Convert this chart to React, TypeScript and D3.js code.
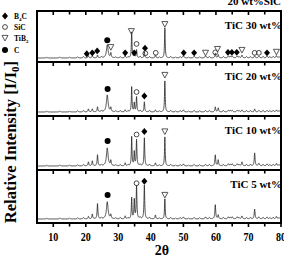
import React from "react";
import * as d3 from "d3";

// ---------- data ----------
const xTicksMajor = [10, 20, 30, 40, 50, 60, 70, 80];
const xTicksMinor = [15, 25, 35, 45, 55, 65, 75];
const panelLabels = ["TiC 30 wt%", "TiC 20 wt%", "TiC 10 wt%", "TiC 5 wt%"];
const title = "20 wt%SiC";

// diffraction peak positions (2θ) and half widths
const peakPositions = [20.8, 22.0, 23.6, 26.6, 27.7, 32.1, 34.1, 34.9, 35.6, 38.0, 41.4, 44.3, 50.0, 53.3, 56.8, 59.8, 60.7, 63.8, 65.0, 66.5, 68.0, 71.9, 73.2, 75.7, 78.6];
const peakWidths = [0.15, 0.15, 0.14, 0.3, 0.14, 0.14, 0.12, 0.12, 0.13, 0.13, 0.15, 0.12, 0.2, 0.2, 0.2, 0.15, 0.15, 0.2, 0.2, 0.2, 0.18, 0.15, 0.2, 0.2, 0.2];
// intensities (0-100) per sample
const intensTiC30 = [5, 5, 6, 28, 10, 5, 55, 12, 17, 13, 6, 64, 5, 4, 5, 10, 7, 4, 4, 4, 6, 5, 4, 4, 5];
const intensTiC20 = [6, 6, 10, 34, 8, 4, 50, 18, 30, 20, 4, 62, 4, 3, 3, 10, 8, 3, 3, 3, 4, 6, 3, 3, 4];
const intensTiC10 = [8, 10, 22, 36, 10, 6, 58, 28, 52, 56, 6, 58, 4, 3, 3, 22, 12, 4, 4, 4, 8, 26, 5, 4, 5];
const intensTiC5 = [5, 10, 31, 35, 8, 6, 43, 39, 67, 69, 8, 41, 4, 3, 4, 29, 8, 4, 4, 4, 6, 20, 4, 4, 5];
const intensities = [intensTiC30, intensTiC20, intensTiC10, intensTiC5];

// small background bumps (2θ, intensity)
const bumpPositions = [8, 12, 15, 17.5, 19.3, 24.8, 29.2, 30.6, 33.0, 36.7, 39.6, 42.6, 46.1, 47.6, 49.0, 51.6, 55.0, 58.0, 62.3, 64.4, 67.1, 69.4, 70.6, 74.5, 76.6, 77.6, 79.4];
const bumpIntens = [1.5, 2, 2, 2.5, 3, 2.5, 2, 2.5, 2, 3, 3, 2, 3, 2, 2.5, 2, 2.5, 3, 3, 3, 2.5, 3, 3, 3, 2.5, 3, 2.5];

// phase markers: [phase, 2θ, intensity level]
type Mk = [string, number, number];
const markersTiC30: Mk[] = [
  ["B4C", 20.3, 9], ["B4C", 22.0, 11], ["B4C", 23.5, 15], ["C", 26.6, 38], ["TiB2", 27.7, 23],
  ["B4C", 32.1, 11], ["TiB2", 34.0, 57], ["B4C", 34.9, 11], ["SiC", 35.6, 30], ["B4C", 38.2, 21],
  ["SiC", 38.3, 10], ["SiC", 41.5, 11], ["TiB2", 44.3, 72], ["B4C", 50.1, 11], ["B4C", 53.3, 11],
  ["TiB2", 56.8, 11], ["SiC", 59.8, 12], ["TiB2", 60.5, 19], ["B4C", 63.7, 12], ["B4C", 64.9, 12],
  ["B4C", 66.4, 12], ["TiB2", 68.0, 17], ["SiC", 71.9, 11], ["SiC", 73.2, 11], ["B4C", 75.7, 11],
  ["TiB2", 78.6, 13],
];
const markersTiC20: Mk[] = [["C", 26.7, 46], ["SiC", 35.6, 40], ["B4C", 38.0, 32], ["TiB2", 44.3, 74]];
const markersTiC10: Mk[] = [["C", 26.7, 50], ["SiC", 35.6, 63], ["B4C", 38.0, 69], ["TiB2", 44.3, 69]];
const markersTiC5: Mk[] = [["C", 26.7, 49], ["SiC", 35.6, 73], ["B4C", 38.0, 77], ["TiB2", 44.3, 49]];
const markers = [markersTiC30, markersTiC20, markersTiC10, markersTiC5];

const legendPhases = ["B4C", "SiC", "TiB2", "C"];

// ---------- layout ----------
const FONT = "'Liberation Serif', 'Times New Roman', serif";
const LEFT = 37, RIGHT = 281;
const panelEdges = [11, 62, 116, 170, 223];

function Marker({ type, cx, cy }: { type: string; cx: number; cy: number }) {
  if (type === "B4C")
    return <path d={`M${cx},${cy - 3.4}L${cx + 3},${cy}L${cx},${cy + 3.4}L${cx - 3},${cy}Z`} fill="#000" />;
  if (type === "SiC")
    return <circle cx={cx} cy={cy} r={2.4} fill="none" stroke="#333" strokeWidth={0.9} />;
  if (type === "TiB2")
    return <path d={`M${cx - 3},${cy - 2.6}L${cx + 3},${cy - 2.6}L${cx},${cy + 3}Z`} fill="none" stroke="#444" strokeWidth={0.9} />;
  return <circle cx={cx} cy={cy} r={3} fill="#000" />;
}

function PhaseLabel({ p }: { p: string }) {
  if (p === "B4C") return <>B<tspan fontSize={5} dy={2}>4</tspan><tspan dy={-2}>C</tspan></>;
  if (p === "TiB2") return <>TiB<tspan fontSize={5} dy={2}>2</tspan></>;
  return <>{p}</>;
}

export default function App() {
  const x = d3.scaleLinear().domain([5, 80]).range([LEFT, RIGHT]);
  const samples = d3.range(5, 80.0001, 0.03);

  const profile = (ints: number[]) =>
    samples.map((t) => {
      let s = 0;
      peakPositions.forEach((p, i) => {
        const d = (t - p) / peakWidths[i];
        s += ints[i] / (1 + d * d);
      });
      bumpPositions.forEach((p, i) => {
        const d = (t - p) / 0.18;
        s += bumpIntens[i] / (1 + d * d);
      });
      return [t, s] as [number, number];
    });

  return (
    <svg width={284} height={261} style={{ position: "absolute", left: 0, top: 0, background: "#fff" }} fontFamily={FONT} fontWeight="bold">
      <rect width={284} height={261} fill="#fff" />
      {panelLabels.map((lab, k) => {
        const top = panelEdges[k], bottom = panelEdges[k + 1];
        const y = d3.scaleLinear().domain([0, 100]).range([bottom - 4, top]);
        const line = d3.line<[number, number]>().x((d) => x(d[0])).y((d) => y(d[1]));
        return (
          <g key={lab}>
            <path d={line(profile(intensities[k])) || ""} fill="none" stroke="#222" strokeWidth={0.8} />
            {markers[k].map((m, i) => (
              <Marker key={i} type={m[0]} cx={x(m[1])} cy={y(m[2])} />
            ))}
            <text x={282} y={top + 18} textAnchor="end" fontSize={11}>{lab}</text>
          </g>
        );
      })}
      {/* frame and separators */}
      <rect x={LEFT} y={panelEdges[0]} width={RIGHT - LEFT} height={panelEdges[4] - panelEdges[0]} fill="none" stroke="#000" strokeWidth={2} />
      {panelEdges.slice(1, 4).map((e) => (
        <line key={e} x1={LEFT} x2={RIGHT} y1={e} y2={e} stroke="#000" strokeWidth={2} />
      ))}
      {/* ticks pointing down from each horizontal line */}
      {panelEdges.map((e) => (
        <g key={"t" + e}>
          {xTicksMajor.map((t) => (
            <line key={t} x1={x(t)} x2={x(t)} y1={e} y2={e + 4} stroke="#000" strokeWidth={1.6} />
          ))}
          {xTicksMinor.map((t) => (
            <line key={t} x1={x(t)} x2={x(t)} y1={e} y2={e + 3.5} stroke="#000" strokeWidth={1.6} />
          ))}
        </g>
      ))}
      {xTicksMajor.map((t) => (
        <text key={t} x={x(t)} y={241} textAnchor="middle" fontSize={12} textLength={10} lengthAdjust="spacingAndGlyphs">{t}</text>
      ))}
      <text x={162} y={255} textAnchor="middle" fontSize={14}>2θ</text>
      <text transform="translate(15.5,142) rotate(-90)" textAnchor="middle" fontSize={16.5}>
        Relative Intensity [I/I<tspan fontSize={11} dy={3}>0</tspan><tspan dy={-3}>]</tspan>
      </text>
      <text x={281} y={5} textAnchor="end" fontSize={11}>{title}</text>
      {/* legend */}
      {legendPhases.map((p, i) => {
        const cy = [16, 27, 38, 50][i];
        return (
          <g key={p}>
            <Marker type={p} cx={5} cy={cy} />
            <text x={14} y={cy + 2.7} fontSize={7.5}><PhaseLabel p={p} /></text>
          </g>
        );
      })}
    </svg>
  );
}
